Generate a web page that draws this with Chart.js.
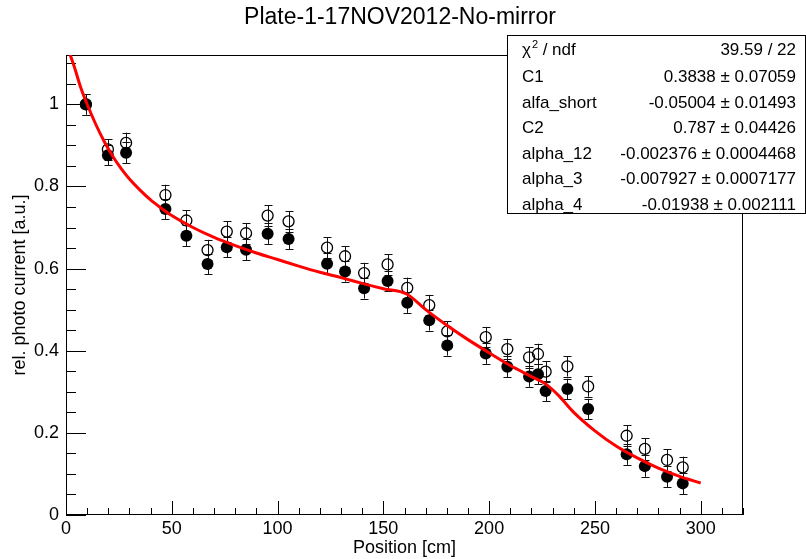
<!DOCTYPE html>
<html>
<head>
<meta charset="utf-8">
<script src="https://cdn.jsdelivr.net/npm/chart.js@4.4.0/dist/chart.umd.min.js"></script>
<style>
  html, body { margin: 0; padding: 0; background: #fff; }
  #wrap { position: relative; width: 806px; height: 559px; }
</style>
</head>
<body>
<div id="wrap"><canvas id="plateChart"></canvas></div>
<script>
// positions of the measurement points [cm]
const positions = [9.4, 19.8, 28.4, 47, 56.9, 66.9, 76, 85.1, 95.3, 105.2, 123.4, 131.9, 140.9, 152,
  161.3, 171.7, 180.2, 198.4, 208.6, 218.9, 223.1, 226.7, 237, 246.8, 265, 273.6, 284.1, 291.5];
// filled markers
const filledValues = [1.0, 0.876, 0.882, 0.745, 0.680, 0.611, 0.652, 0.646, 0.685, 0.672, 0.612, 0.593, 0.552, 0.570,
  0.517, 0.474, 0.413, 0.393, 0.361, 0.337, 0.343, 0.302, 0.307, 0.258, 0.148, 0.119, 0.093, 0.077];
const filledErrors = [0.025, 0.025, 0.025, 0.025, 0.025, 0.025, 0.025, 0.025, 0.025, 0.025, 0.025, 0.025, 0.025, 0.025,
  0.025, 0.025, 0.025, 0.025, 0.025, 0.025, 0.025, 0.025, 0.025, 0.025, 0.026, 0.026, 0.026, 0.026];
// open markers
const openValues = [1.0, 0.890, 0.906, 0.779, 0.717, 0.645, 0.690, 0.686, 0.729, 0.715, 0.651, 0.630, 0.589, 0.610,
  0.553, 0.511, 0.447, 0.433, 0.404, 0.384, 0.392, 0.349, 0.362, 0.313, 0.193, 0.161, 0.134, 0.116];
const openErrors = [0.025, 0.025, 0.025, 0.025, 0.025, 0.025, 0.025, 0.025, 0.025, 0.025, 0.025, 0.025, 0.025, 0.025,
  0.025, 0.025, 0.025, 0.025, 0.025, 0.025, 0.025, 0.025, 0.025, 0.025, 0.026, 0.026, 0.026, 0.026];
// red fit curve
const fitX = [2, 4, 7, 10, 14, 18, 22, 26, 30, 35, 40, 45, 50, 60, 70, 80, 90, 100, 110, 120, 130, 140, 150, 161,
  170, 180, 190, 200, 210, 220, 227, 233, 240, 250, 260, 270, 280, 290, 300];
const fitY = [1.12, 1.09, 1.04, 1.00, 0.952, 0.91, 0.874, 0.844, 0.818, 0.791, 0.767, 0.747, 0.729, 0.70, 0.676, 0.656,
  0.638, 0.622, 0.606, 0.591, 0.578, 0.564, 0.551, 0.538, 0.50, 0.462, 0.427, 0.395, 0.364, 0.337, 0.318, 0.29,
  0.25, 0.205, 0.168, 0.139, 0.114, 0.094, 0.078];
const xTickLabels = [0, 50, 100, 150, 200, 250, 300];
const yTickLabels = [0, 0.2, 0.4, 0.6, 0.8, 1];
const statNames = ['C1', 'alfa_short', 'C2', 'alpha_12', 'alpha_3', 'alpha_4'];
const statValues = ['0.3838 \u00b1 0.07059', '-0.05004 \u00b1 0.01493', '0.787 \u00b1 0.04426',
  '-0.002376 \u00b1 0.0004468', '-0.007927 \u00b1 0.0007177', '-0.01938 \u00b1 0.002111'];
const chiText = '39.59 / 22';
const plotTitle = 'Plate-1-17NOV2012-No-mirror';

const FONT = 'Liberation Sans, Arial, sans-serif';

const toPoints = (xs, ys) => xs.map((x, i) => ({ x: x, y: ys[i] }));

// frame, inward ticks, error bars, title and the fit box
const rootStyle = {
  id: 'rootStyle',
  beforeDatasetsDraw(chart) {
    const ctx = chart.ctx;
    const a = chart.chartArea;
    const xs = chart.scales.x, ys = chart.scales.y;
    ctx.save();
    ctx.strokeStyle = '#000';
    ctx.lineWidth = 1;
    ctx.strokeRect(Math.round(a.left) + 0.5, Math.round(a.top) + 0.5,
      Math.round(a.right - a.left) - 1, Math.round(a.bottom - a.top) - 1);

    ctx.beginPath();
    for (let v = 0; v <= 320; v += 10) {
      const px = Math.round(xs.getPixelForValue(v)) + 0.5;
      const len = v % 50 === 0 ? 14 : 7;
      ctx.moveTo(px, a.bottom);
      ctx.lineTo(px, a.bottom - len);
    }
    for (let k = 0; k <= 22; k++) {
      const py = Math.round(ys.getPixelForValue(k * 0.05)) + 0.5;
      const len = k % 4 === 0 ? 20 : 10;
      ctx.moveTo(a.left, py);
      ctx.lineTo(a.left + len, py);
    }
    ctx.stroke();

    // error bars
    const drawErr = (vals, errs) => {
      ctx.beginPath();
      positions.forEach((x, i) => {
        const px = Math.round(xs.getPixelForValue(x)) + 0.5;
        const top = ys.getPixelForValue(vals[i] + errs[i]);
        const bot = ys.getPixelForValue(vals[i] - errs[i]);
        ctx.moveTo(px, top); ctx.lineTo(px, bot);
        ctx.moveTo(px - 4, Math.round(top) + 0.5); ctx.lineTo(px + 4, Math.round(top) + 0.5);
        ctx.moveTo(px - 4, Math.round(bot) + 0.5); ctx.lineTo(px + 4, Math.round(bot) + 0.5);
      });
      ctx.stroke();
    };
    ctx.strokeStyle = '#111';
    drawErr(openValues, openErrors);
    drawErr(filledValues, filledErrors);
    ctx.restore();
  },
  afterDraw(chart) {
    const ctx = chart.ctx;
    ctx.save();
    // title centred on the canvas
    ctx.fillStyle = '#000';
    ctx.textAlign = 'center';
    ctx.textBaseline = 'middle';
    ctx.font = '23px ' + FONT;
    ctx.fillText(plotTitle, 400, 17.5);

    const bx = 507, by = 35, bw = 298, bh = 178;
    ctx.fillStyle = '#fff';
    ctx.fillRect(bx, by, bw, bh);
    ctx.strokeStyle = '#000';
    ctx.lineWidth = 1;
    ctx.strokeRect(bx + 0.5, by + 0.5, bw, bh);

    ctx.fillStyle = '#000';
    ctx.font = '17px ' + FONT;
    // chi2 row
    let y = 50.5;
    ctx.textAlign = 'left';
    ctx.fillText('\u03c7', 522, y);
    const cw = ctx.measureText('\u03c7').width;
    ctx.font = '11px ' + FONT;
    ctx.fillText('2', 522 + cw + 1, y - 6);
    ctx.font = '17px ' + FONT;
    ctx.fillText(' / ndf', 522 + cw + 7, y);
    ctx.textAlign = 'right';
    ctx.fillText(chiText, 796, y);

    statNames.forEach((name, i) => {
      const ry = 77.7 + i * 25.5;
      ctx.textAlign = 'left';
      ctx.fillText(name, 522, ry);
      ctx.textAlign = 'right';
      ctx.fillText(statValues[i], 796, ry);
    });
    ctx.restore();
  }
};

const ctx = document.getElementById('plateChart').getContext('2d');
new Chart(ctx, {
  type: 'scatter',
  data: {
    datasets: [
      {
        label: 'fit',
        data: toPoints(fitX, fitY),
        showLine: true,
        borderColor: '#ff0000',
        borderWidth: 3,
        pointRadius: 0,
        cubicInterpolationMode: 'monotone',
        order: 0
      },
      {
        label: 'filled',
        data: toPoints(positions, filledValues),
        pointRadius: 6,
        pointBackgroundColor: '#000',
        pointBorderWidth: 0,
        order: 1
      },
      {
        label: 'open',
        data: toPoints(positions, openValues),
        pointRadius: 5.5,
        pointBackgroundColor: 'rgba(0,0,0,0)',
        pointBorderColor: '#000',
        pointBorderWidth: 1.3,
        order: 2
      }
    ]
  },
  options: {
    responsive: true,
    maintainAspectRatio: false,
    animation: false,
    events: [],
    layout: { padding: { left: 0, right: 63, top: 55, bottom: 0 } },
    plugins: {
      legend: { display: false },
      tooltip: { enabled: false },
      title: { display: false }
    },
    scales: {
      x: {
        type: 'linear',
        min: 0,
        max: 320,
        afterBuildTicks: (scale) => { scale.ticks = xTickLabels.map(v => ({ value: v })); },
        afterFit: (scale) => { scale.height = 44; },
        grid: { display: false, drawTicks: false },
        border: { display: false },
        ticks: { color: '#000', padding: 3, maxRotation: 0, autoSkip: false,
          callback: (v) => String(v),
          font: { family: FONT, size: 18 } },
        title: { display: true, text: 'Position [cm]', color: '#000', align: 'center',
          padding: { top: 0, bottom: 0 }, font: { family: FONT, size: 18 } }
      },
      y: {
        type: 'linear',
        min: 0,
        max: 1.12,
        afterBuildTicks: (scale) => { scale.ticks = yTickLabels.map(v => ({ value: v })); },
        afterFit: (scale) => { scale.width = 66; },
        grid: { display: false, drawTicks: false },
        border: { display: false },
        ticks: { color: '#000', padding: 7, autoSkip: false,
          callback: (v) => String(+v.toFixed(2)),
          font: { family: FONT, size: 18 } },
        title: { display: true, text: 'rel. photo current [a.u.]', color: '#000',
          padding: { top: 9, bottom: 0 }, font: { family: FONT, size: 18 } }
      }
    }
  },
  plugins: [rootStyle]
});
</script>
</body>
</html>
